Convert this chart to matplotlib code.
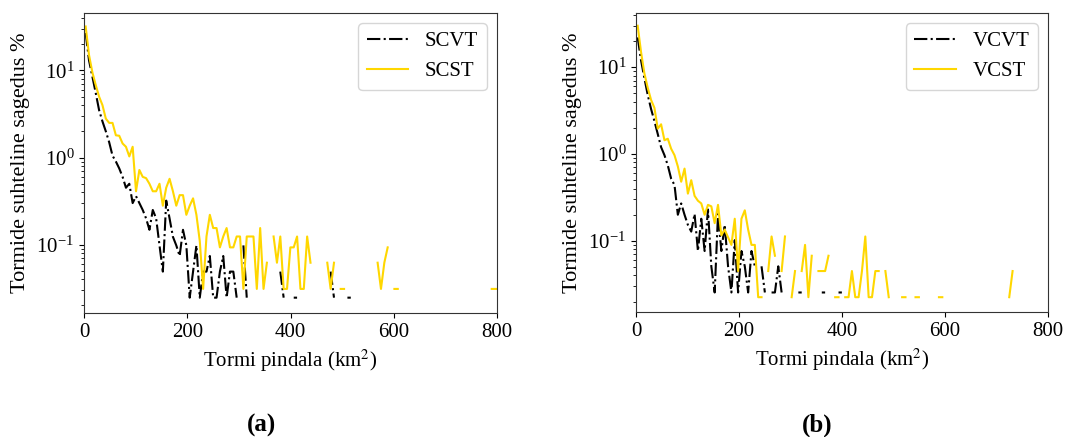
import numpy as np
import matplotlib
matplotlib.use("Agg")
import matplotlib.pyplot as plt

plt.rcParams['font.family'] = ['Liberation Serif', 'DejaVu Serif']
plt.rcParams['mathtext.fontset'] = 'stix'

nan = np.nan
bin_width = 6.5  # km^2

# (a) SCVT / SCST relative frequency (%)
scvt = [27, 13, 8.5, 5.5, 3.5, 2.6, 2.0, 1.5, 1.05, 0.9,
        0.75, 0.6, 0.45, 0.5, 0.3, 0.36, 0.3, 0.25, 0.2, 0.148,
        0.25, 0.2, 0.098, 0.049, 0.32, 0.2, 0.123, 0.098, 0.074, 0.148,
        0.098, 0.0246, 0.049, 0.098, 0.0246, 0.049, 0.049, 0.074, 0.0246, 0.0246,
        0.049, 0.074, 0.0246, 0.049, 0.049, 0.0246, nan, 0.098, 0.0246, nan,
        nan, nan, nan, nan, nan, nan, nan, nan, 0.049, 0.0246,
        nan, nan, 0.0246, 0.0246, nan, nan, nan, nan, nan, nan,
        nan, nan, nan, 0.049, 0.0246, nan, nan, nan, 0.0246, 0.0246]

scst = [32, 15, 9.5, 6.8, 5.0, 4.0, 2.8, 2.5, 2.5, 1.8,
        1.78, 1.45, 1.33, 1.03, 1.33, 0.41, 0.72, 0.60, 0.58, 0.50,
        0.41, 0.41, 0.50, 0.28, 0.45, 0.57, 0.41, 0.28, 0.37, 0.37,
        0.22, 0.28, 0.34, 0.22, 0.11, 0.031, 0.124, 0.22, 0.155, 0.155,
        0.093, 0.124, 0.155, 0.093, 0.093, 0.124, 0.124, 0.031, 0.124, 0.124,
        0.124, 0.031, 0.155, 0.031, 0.062, nan, 0.124, 0.062, 0.124, 0.031,
        0.031, 0.093, 0.093, 0.124, 0.031, 0.031, 0.124, 0.062, nan, nan,
        nan, nan, 0.062, 0.031, 0.062, nan, 0.031, 0.031, nan, nan,
        nan, nan, nan, nan, nan, nan, nan, 0.062, 0.031, 0.062,
        0.093, nan, 0.031, 0.031, nan, nan, nan, nan, nan, nan,
        nan, nan, nan, nan, nan, nan, nan, nan, nan, nan,
        nan, nan, nan, nan, nan, nan, nan, nan, nan, nan,
        nan, 0.031, 0.031, 0.031]

# (b) VCVT / VCST relative frequency (%)
vcvt = [22, 12, 7.5, 4.8, 3.3, 2.4, 1.7, 1.2, 0.97, 0.74,
        0.52, 0.44, 0.2, 0.27, 0.2, 0.153, 0.128, 0.204, 0.0765, 0.18,
        0.0765, 0.23, 0.051, 0.0255, 0.204, 0.0765, 0.153, 0.051, 0.0255, 0.102,
        0.0255, 0.0765, 0.051, 0.0255, 0.0765, 0.051, nan, 0.051, 0.0255, nan,
        0.0255, 0.0255, 0.051, 0.0255, nan, nan, nan, nan, 0.0255, 0.0255,
        nan, nan, nan, nan, nan, 0.0255, 0.0255, nan, nan, nan,
        0.0255, 0.0255]

vcst = [30, 15, 8.5, 5.8, 4.2, 3.4, 1.96, 2.2, 1.44, 1.5,
        1.15, 0.97, 0.72, 0.48, 0.68, 0.35, 0.5, 0.33, 0.29, 0.27,
        0.2, 0.26, 0.25, 0.16, 0.26, 0.116, 0.135, 0.11, 0.09, 0.18,
        0.045, 0.18, 0.225, 0.135, 0.09, 0.09, 0.0225, 0.0225, nan, 0.045,
        0.1125, 0.0675, nan, 0.045, 0.1125, nan, 0.0225, 0.045, nan, 0.045,
        0.09, 0.0225, 0.0675, nan, 0.045, 0.045, 0.045, 0.0675, nan, 0.0225,
        0.0225, nan, 0.0225, 0.0225, 0.045, 0.0225, 0.0225, 0.045, 0.1125, 0.0225,
        0.0225, 0.045, 0.045, nan, 0.045, 0.0225, nan, nan, nan, 0.0225,
        0.0225, nan, nan, 0.0225, 0.0225, nan, nan, nan, nan, nan,
        0.0225, 0.0225, nan, nan, nan, nan, nan, nan, nan, nan,
        nan, nan, nan, nan, nan, nan, nan, nan, nan, nan,
        nan, 0.0225, 0.045]

labels_a = ["SCVT", "SCST"]
labels_b = ["VCVT", "VCST"]
xlabel = "Tormi pindala (km$^2$)"
ylabel = "Tormide suhteline sagedus %"
panel_tags = ["(a)", "(b)"]


def centers(vals):
    return bin_width / 2 + bin_width * np.arange(len(vals))


FS = 15
fig = plt.figure(figsize=(10.67, 4.37), dpi=100)
axa = fig.add_axes([84 / 1067, 1 - 313 / 437, 413 / 1067, 300 / 437])
axb = fig.add_axes([636 / 1067, 1 - 312 / 437, 412 / 1067, 299 / 437])

panels = [
    (axa, scvt, scst, labels_a, (0.0164, 45.7)),
    (axb, vcvt, vcst, labels_b, (0.0152, 42.0)),
]
for ax, black, yellow, labs, ylim in panels:
    b = np.array(black, dtype=float)
    y = np.array(yellow, dtype=float)
    ax.plot(centers(b), b, color='black', linestyle='-.', lw=1.5, label=labs[0])
    ax.plot(centers(y), y, color='#FFD700', linestyle='-', lw=1.5, label=labs[1])
    ax.set_yscale('log')
    ax.set_xlim(0, 800)
    ax.set_ylim(*ylim)
    ax.set_xticks([0, 200, 400, 600, 800])
    ax.tick_params(labelsize=FS)
    ax.set_xlabel(xlabel, fontsize=FS)
    ax.set_ylabel(ylabel, fontsize=16, labelpad=5)
    for s in ax.spines.values():
        s.set_color('#333333')
    ax.legend(loc='upper right', fontsize=FS, frameon=True)

fig.text(262 / 1067, 1 - 425 / 437, panel_tags[0], fontsize=18, fontweight='bold',
         ha='center', va='center')
fig.text(817 / 1067, 1 - 425 / 437, panel_tags[1], fontsize=18, fontweight='bold',
         ha='center', va='center')

fig.savefig("out.png", dpi=100)
